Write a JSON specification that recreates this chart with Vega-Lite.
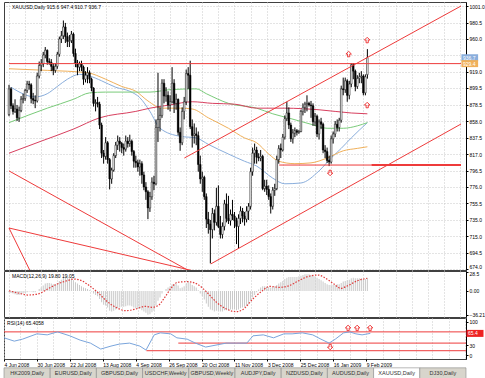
{
 "$schema": "https://vega.github.io/schema/vega-lite/v6.json",
 "padding": {"left": 1, "top": 1, "right": 0, "bottom": 0},
 "background": "#ffffff",
 "spacing": 1,
 "bounds": "flush",
 "config": {
  "font": "Liberation Sans",
  "view": {"stroke": "#404040", "strokeWidth": 1},
  "axis": {"labelFontSize": 5, "labelColor": "#000", "title": null, "domainColor": "#000", "tickColor": "#000", "labelOverlap": false, "tickCount": 200}
 },
 "resolve": {"scale": {"x": "independent", "y": "independent", "color": "independent", "shape": "independent"}},
 "datasets": {
  "candles": [
{"i":0,"o":866,"h":903,"l":864,"c":898},{"i":1,"o":898,"h":900,"l":873,"c":877},{"i":2,"o":877,"h":880,"l":866,"c":870},{"i":3,"o":870,"h":885,"l":868,"c":873},{"i":4,"o":873,"h":878,"l":858,"c":862},{"i":5,"o":862,"h":876,"l":857,"c":871},{"i":6,"o":871,"h":889,"l":869,"c":885},{"i":7,"o":885,"h":892,"l":880,"c":886},{"i":8,"o":886,"h":898,"l":883,"c":896},{"i":9,"o":896,"h":908,"l":893,"c":904},
{"i":10,"o":904,"h":908,"l":897,"c":903},{"i":11,"o":903,"h":905,"l":880,"c":886},{"i":12,"o":886,"h":893,"l":879,"c":884},{"i":13,"o":884,"h":890,"l":874,"c":883},{"i":14,"o":883,"h":918,"l":881,"c":914},{"i":15,"o":914,"h":932,"l":911,"c":927},{"i":16,"o":927,"h":935,"l":920,"c":929},{"i":17,"o":929,"h":944,"l":925,"c":940},{"i":18,"o":940,"h":950,"l":936,"c":946},{"i":19,"o":946,"h":947,"l":928,"c":932},
{"i":20,"o":932,"h":936,"l":928,"c":931},{"i":21,"o":931,"h":935,"l":920,"c":926},{"i":22,"o":926,"h":930,"l":915,"c":921},{"i":23,"o":921,"h":930,"l":918,"c":926},{"i":24,"o":926,"h":944,"l":923,"c":941},{"i":25,"o":941,"h":963,"l":938,"c":960},{"i":26,"o":960,"h":970,"l":955,"c":964},{"i":27,"o":964,"h":983,"l":960,"c":975},{"i":28,"o":975,"h":980,"l":955,"c":963},{"i":29,"o":963,"h":968,"l":950,"c":957},
{"i":30,"o":957,"h":965,"l":950,"c":958},{"i":31,"o":958,"h":970,"l":955,"c":966},{"i":32,"o":966,"h":968,"l":938,"c":942},{"i":33,"o":942,"h":948,"l":925,"c":930},{"i":34,"o":930,"h":934,"l":915,"c":925},{"i":35,"o":925,"h":932,"l":920,"c":929},{"i":36,"o":929,"h":933,"l":920,"c":925},{"i":37,"o":925,"h":927,"l":903,"c":910},{"i":38,"o":910,"h":920,"l":906,"c":915},{"i":39,"o":915,"h":925,"l":905,"c":918},
{"i":40,"o":918,"h":921,"l":905,"c":910},{"i":41,"o":910,"h":912,"l":895,"c":899},{"i":42,"o":899,"h":900,"l":876,"c":880},{"i":43,"o":880,"h":885,"l":870,"c":881},{"i":44,"o":881,"h":888,"l":875,"c":879},{"i":45,"o":879,"h":882,"l":848,"c":853},{"i":46,"o":853,"h":856,"l":812,"c":818},{"i":47,"o":818,"h":822,"l":805,"c":814},{"i":48,"o":814,"h":838,"l":810,"c":831},{"i":49,"o":831,"h":833,"l":805,"c":810},
{"i":50,"o":810,"h":812,"l":773,"c":786},{"i":51,"o":786,"h":800,"l":780,"c":797},{"i":52,"o":797,"h":818,"l":795,"c":815},{"i":53,"o":815,"h":832,"l":812,"c":828},{"i":54,"o":828,"h":840,"l":822,"c":833},{"i":55,"o":833,"h":838,"l":820,"c":830},{"i":56,"o":830,"h":832,"l":818,"c":825},{"i":57,"o":825,"h":830,"l":815,"c":823},{"i":58,"o":823,"h":840,"l":820,"c":833},{"i":59,"o":833,"h":838,"l":825,"c":830},
{"i":60,"o":830,"h":841,"l":826,"c":833},{"i":61,"o":833,"h":835,"l":815,"c":820},{"i":62,"o":820,"h":822,"l":800,"c":808},{"i":63,"o":808,"h":815,"l":800,"c":806},{"i":64,"o":806,"h":810,"l":795,"c":801},{"i":65,"o":801,"h":810,"l":790,"c":805},{"i":66,"o":805,"h":808,"l":780,"c":791},{"i":67,"o":791,"h":795,"l":772,"c":776},{"i":68,"o":776,"h":782,"l":760,"c":770},{"i":69,"o":770,"h":772,"l":736,"c":750},
{"i":70,"o":750,"h":770,"l":745,"c":764},{"i":71,"o":764,"h":788,"l":760,"c":782},{"i":72,"o":782,"h":790,"l":772,"c":780},{"i":73,"o":780,"h":860,"l":778,"c":850},{"i":74,"o":850,"h":918,"l":832,"c":860},{"i":75,"o":860,"h":875,"l":845,"c":865},{"i":76,"o":865,"h":910,"l":862,"c":905},{"i":77,"o":905,"h":910,"l":880,"c":889},{"i":78,"o":889,"h":900,"l":882,"c":890},{"i":79,"o":890,"h":895,"l":872,"c":878},
{"i":80,"o":878,"h":890,"l":870,"c":882},{"i":81,"o":882,"h":925,"l":880,"c":905},{"i":82,"o":905,"h":910,"l":868,"c":880},{"i":83,"o":880,"h":892,"l":872,"c":885},{"i":84,"o":885,"h":886,"l":840,"c":844},{"i":85,"o":844,"h":850,"l":821,"c":831},{"i":86,"o":831,"h":875,"l":828,"c":870},{"i":87,"o":870,"h":888,"l":860,"c":882},{"i":88,"o":882,"h":922,"l":878,"c":917},{"i":89,"o":917,"h":925,"l":898,"c":915},
{"i":90,"o":915,"h":933,"l":848,"c":851},{"i":91,"o":851,"h":860,"l":825,"c":840},{"i":92,"o":840,"h":855,"l":830,"c":842},{"i":93,"o":842,"h":850,"l":828,"c":840},{"i":94,"o":840,"h":845,"l":795,"c":804},{"i":95,"o":804,"h":815,"l":780,"c":786},{"i":96,"o":786,"h":795,"l":770,"c":788},{"i":97,"o":788,"h":790,"l":760,"c":764},{"i":98,"o":764,"h":768,"l":725,"c":736},{"i":99,"o":736,"h":745,"l":718,"c":730},
{"i":100,"o":730,"h":735,"l":681,"c":723},{"i":101,"o":723,"h":750,"l":712,"c":743},{"i":102,"o":743,"h":748,"l":722,"c":732},{"i":103,"o":732,"h":775,"l":728,"c":752},{"i":104,"o":752,"h":778,"l":725,"c":727},{"i":105,"o":727,"h":740,"l":712,"c":717},{"i":106,"o":717,"h":732,"l":712,"c":727},{"i":107,"o":727,"h":760,"l":722,"c":755},{"i":108,"o":755,"h":768,"l":732,"c":737},{"i":109,"o":737,"h":765,"l":730,"c":734},
{"i":110,"o":734,"h":748,"l":728,"c":742},{"i":111,"o":742,"h":760,"l":735,"c":740},{"i":112,"o":740,"h":745,"l":725,"c":734},{"i":113,"o":734,"h":738,"l":705,"c":727},{"i":114,"o":727,"h":742,"l":700,"c":737},{"i":115,"o":737,"h":752,"l":730,"c":746},{"i":116,"o":746,"h":750,"l":732,"c":740},{"i":117,"o":740,"h":745,"l":728,"c":736},{"i":118,"o":736,"h":752,"l":732,"c":746},{"i":119,"o":746,"h":756,"l":735,"c":752},
{"i":120,"o":752,"h":800,"l":748,"c":795},{"i":121,"o":795,"h":825,"l":790,"c":818},{"i":122,"o":818,"h":830,"l":805,"c":822},{"i":123,"o":822,"h":826,"l":805,"c":813},{"i":124,"o":813,"h":818,"l":808,"c":812},{"i":125,"o":812,"h":822,"l":808,"c":814},{"i":126,"o":814,"h":816,"l":772,"c":774},{"i":127,"o":774,"h":785,"l":770,"c":777},{"i":128,"o":777,"h":785,"l":766,"c":773},{"i":129,"o":773,"h":778,"l":760,"c":764},
{"i":130,"o":764,"h":768,"l":743,"c":752},{"i":131,"o":752,"h":776,"l":748,"c":772},{"i":132,"o":772,"h":780,"l":765,"c":774},{"i":133,"o":774,"h":815,"l":772,"c":810},{"i":134,"o":810,"h":828,"l":805,"c":824},{"i":135,"o":824,"h":830,"l":812,"c":822},{"i":136,"o":822,"h":842,"l":820,"c":838},{"i":137,"o":838,"h":865,"l":835,"c":861},{"i":138,"o":861,"h":882,"l":858,"c":868},{"i":139,"o":868,"h":875,"l":848,"c":853},
{"i":140,"o":853,"h":856,"l":832,"c":836},{"i":141,"o":836,"h":848,"l":830,"c":843},{"i":142,"o":843,"h":850,"l":838,"c":846},{"i":143,"o":846,"h":848,"l":840,"c":844},{"i":144,"o":844,"h":847,"l":842,"c":845},{"i":145,"o":845,"h":872,"l":844,"c":870},{"i":146,"o":870,"h":880,"l":865,"c":875},{"i":147,"o":875,"h":882,"l":868,"c":879},{"i":148,"o":879,"h":890,"l":870,"c":880},{"i":149,"o":880,"h":882,"l":876,"c":878},
{"i":150,"o":878,"h":883,"l":862,"c":877},{"i":151,"o":877,"h":880,"l":852,"c":857},{"i":152,"o":857,"h":868,"l":852,"c":864},{"i":153,"o":864,"h":866,"l":838,"c":842},{"i":154,"o":842,"h":860,"l":835,"c":857},{"i":155,"o":857,"h":862,"l":848,"c":854},{"i":156,"o":854,"h":856,"l":818,"c":822},{"i":157,"o":822,"h":828,"l":812,"c":820},{"i":158,"o":820,"h":825,"l":806,"c":809},{"i":159,"o":809,"h":815,"l":802,"c":807},
{"i":160,"o":807,"h":840,"l":805,"c":836},{"i":161,"o":836,"h":845,"l":830,"c":842},{"i":162,"o":842,"h":858,"l":838,"c":854},{"i":163,"o":854,"h":860,"l":845,"c":850},{"i":164,"o":850,"h":862,"l":845,"c":859},{"i":165,"o":859,"h":902,"l":856,"c":898},{"i":166,"o":898,"h":912,"l":890,"c":897},{"i":167,"o":897,"h":912,"l":893,"c":908},{"i":168,"o":908,"h":910,"l":882,"c":890},{"i":169,"o":890,"h":908,"l":885,"c":904},
{"i":170,"o":904,"h":930,"l":900,"c":928},{"i":171,"o":928,"h":930,"l":910,"c":920},{"i":172,"o":920,"h":922,"l":895,"c":901},{"i":173,"o":901,"h":915,"l":898,"c":911},{"i":174,"o":911,"h":918,"l":905,"c":913},{"i":175,"o":913,"h":920,"l":905,"c":914},{"i":176,"o":914,"h":916,"l":890,"c":893},{"i":177,"o":893,"h":916,"l":890,"c":913},{"i":178,"o":915.6,"h":947.4,"l":910.7,"c":936.7}
  ],
  "ma": [
{"ma":"blue","i":1,"v":900},{"ma":"blue","i":13,"v":888},{"ma":"blue","i":19,"v":892},{"ma":"blue","i":24,"v":901},{"ma":"blue","i":29,"v":910},{"ma":"blue","i":35,"v":916},{"ma":"blue","i":40,"v":914},{"ma":"blue","i":46,"v":908},{"ma":"blue","i":53,"v":900},{"ma":"blue","i":60,"v":895},{"ma":"blue","i":65,"v":887},{"ma":"blue","i":70,"v":870},{"ma":"blue","i":75,"v":849},{"ma":"blue","i":85,"v":839},{"ma":"blue","i":93,"v":837},{"ma":"blue","i":99,"v":829},{"ma":"blue","i":109,"v":817},{"ma":"blue","i":117,"v":808},{"ma":"blue","i":123,"v":802},{"ma":"blue","i":131,"v":787},{"ma":"blue","i":137,"v":780},{"ma":"blue","i":145,"v":781},{"ma":"blue","i":154,"v":796},{"ma":"blue","i":160,"v":812},{"ma":"blue","i":165,"v":824},{"ma":"blue","i":170,"v":837},{"ma":"blue","i":178,"v":856},
{"ma":"orange","i":0,"v":923},{"ma":"orange","i":19,"v":921},{"ma":"orange","i":39,"v":918},{"ma":"orange","i":48,"v":910},{"ma":"orange","i":56,"v":901},{"ma":"orange","i":63,"v":895},{"ma":"orange","i":69,"v":883},{"ma":"orange","i":76,"v":874},{"ma":"orange","i":85,"v":874},{"ma":"orange","i":91,"v":873},{"ma":"orange","i":99,"v":862},{"ma":"orange","i":109,"v":849},{"ma":"orange","i":117,"v":837},{"ma":"orange","i":123,"v":831},{"ma":"orange","i":129,"v":817},{"ma":"orange","i":134,"v":808},{"ma":"orange","i":142,"v":805},{"ma":"orange","i":150,"v":806},{"ma":"orange","i":158,"v":812},{"ma":"orange","i":166,"v":821},{"ma":"orange","i":173,"v":824},{"ma":"orange","i":178,"v":826},
{"ma":"green","i":0,"v":856},{"ma":"green","i":19,"v":874},{"ma":"green","i":32,"v":885},{"ma":"green","i":40,"v":893},{"ma":"green","i":48,"v":894},{"ma":"green","i":63,"v":894},{"ma":"green","i":70,"v":894},{"ma":"green","i":80,"v":897},{"ma":"green","i":93,"v":898},{"ma":"green","i":98,"v":892},{"ma":"green","i":109,"v":880},{"ma":"green","i":123,"v":874},{"ma":"green","i":131,"v":867},{"ma":"green","i":140,"v":861},{"ma":"green","i":150,"v":854},{"ma":"green","i":158,"v":849},{"ma":"green","i":166,"v":849},{"ma":"green","i":173,"v":852},{"ma":"green","i":178,"v":856},
{"ma":"crimson","i":0,"v":818},{"ma":"crimson","i":16,"v":833},{"ma":"crimson","i":32,"v":848},{"ma":"crimson","i":45,"v":862},{"ma":"crimson","i":63,"v":870},{"ma":"crimson","i":70,"v":874},{"ma":"crimson","i":80,"v":878},{"ma":"crimson","i":91,"v":882},{"ma":"crimson","i":101,"v":880},{"ma":"crimson","i":112,"v":879},{"ma":"crimson","i":123,"v":874},{"ma":"crimson","i":137,"v":874},{"ma":"crimson","i":154,"v":872},{"ma":"crimson","i":170,"v":868},{"ma":"crimson","i":178,"v":867}
  ],
  "trend": [
{"i1":87.1,"p1":812.0,"i2":224.5,"p2":1001.0},
{"i1":100.2,"p1":680.3,"i2":224.5,"p2":854.3},
{"i1":0,"p1":929.4,"i2":224.5,"p2":929.4},
{"i1":134.2,"p1":803.3,"i2":180,"p2":803.3},
{"i1":0,"p1":796,"i2":95,"p2":664},
{"i1":0,"p1":725,"i2":98,"p2":668},
{"i1":0,"p1":725,"i2":12,"p2":664}
  ],
  "trendThick": [
{"i1":180,"p1":803.3,"i2":224.5,"p2":803.3}
  ],
  "arrows": [
{"i":168.7,"p":941.3,"dir":"up"},{"i":177.9,"p":958.7,"dir":"up"},{"i":177.9,"p":877.9,"dir":"up"},{"i":159.5,"p":793.4,"dir":"down"}
  ],
  "boxes": [
{"p":936.7,"kind":"bid","lab":"936.7"},{"p":929.4,"kind":"line","lab":"929.4"}
  ],
  "macd": [
{"i":0,"m":-2},{"i":1,"m":-3},{"i":2,"m":-4},{"i":3,"m":-5},{"i":4,"m":-6},{"i":5,"m":-6},{"i":6,"m":-5},{"i":7,"m":-4},{"i":8,"m":-3},{"i":9,"m":-2},
{"i":10,"m":-1},{"i":11,"m":-1},{"i":12,"m":-2},{"i":13,"m":-2},{"i":14,"m":0},{"i":15,"m":3},{"i":16,"m":5},{"i":17,"m":8},{"i":18,"m":11},{"i":19,"m":12},
{"i":20,"m":12},{"i":21,"m":11},{"i":22,"m":10},{"i":23,"m":10},{"i":24,"m":12},{"i":25,"m":15},{"i":26,"m":17},{"i":27,"m":20},{"i":28,"m":21},{"i":29,"m":20},
{"i":30,"m":19},{"i":31,"m":19},{"i":32,"m":16},{"i":33,"m":13},{"i":34,"m":11},{"i":35,"m":9},{"i":36,"m":7},{"i":37,"m":5},{"i":38,"m":4},{"i":39,"m":3},
{"i":40,"m":1},{"i":41,"m":-1},{"i":42,"m":-4},{"i":43,"m":-6},{"i":44,"m":-8},{"i":45,"m":-12},{"i":46,"m":-17},{"i":47,"m":-21},{"i":48,"m":-22},{"i":49,"m":-25},
{"i":50,"m":-30},{"i":51,"m":-31},{"i":52,"m":-30},{"i":53,"m":-28},{"i":54,"m":-26},{"i":55,"m":-25},{"i":56,"m":-24},{"i":57,"m":-24},{"i":58,"m":-23},{"i":59,"m":-22},
{"i":60,"m":-22},{"i":61,"m":-23},{"i":62,"m":-25},{"i":63,"m":-26},{"i":64,"m":-27},{"i":65,"m":-27},{"i":66,"m":-29},{"i":67,"m":-31},{"i":68,"m":-33},{"i":69,"m":-36},
{"i":70,"m":-35},{"i":71,"m":-32},{"i":72,"m":-30},{"i":73,"m":-22},{"i":74,"m":-15},{"i":75,"m":-10},{"i":76,"m":-4},{"i":77,"m":0},{"i":78,"m":3},{"i":79,"m":5},
{"i":80,"m":7},{"i":81,"m":10},{"i":82,"m":10},{"i":83,"m":11},{"i":84,"m":8},{"i":85,"m":4},{"i":86,"m":5},{"i":87,"m":7},{"i":88,"m":11},{"i":89,"m":14},
{"i":90,"m":12},{"i":91,"m":9},{"i":92,"m":7},{"i":93,"m":5},{"i":94,"m":1},{"i":95,"m":-4},{"i":96,"m":-8},{"i":97,"m":-13},{"i":98,"m":-19},{"i":99,"m":-24},
{"i":100,"m":-28},{"i":101,"m":-29},{"i":102,"m":-31},{"i":103,"m":-30},{"i":104,"m":-30},{"i":105,"m":-31},{"i":106,"m":-31},{"i":107,"m":-29},{"i":108,"m":-29},{"i":109,"m":-29},
{"i":110,"m":-28},{"i":111,"m":-28},{"i":112,"m":-28},{"i":113,"m":-29},{"i":114,"m":-28},{"i":115,"m":-26},{"i":116,"m":-25},{"i":117,"m":-24},{"i":118,"m":-22},{"i":119,"m":-20},
{"i":120,"m":-14},{"i":121,"m":-10},{"i":122,"m":-6},{"i":123,"m":-2},{"i":124,"m":2},{"i":125,"m":5},{"i":126,"m":7},{"i":127,"m":7},{"i":128,"m":6},{"i":129,"m":6},
{"i":130,"m":5},{"i":131,"m":6},{"i":132,"m":7},{"i":133,"m":9},{"i":134,"m":11},{"i":135,"m":13},{"i":136,"m":15},{"i":137,"m":18},{"i":138,"m":20},{"i":139,"m":21},
{"i":140,"m":21},{"i":141,"m":21},{"i":142,"m":21},{"i":143,"m":21},{"i":144,"m":22},{"i":145,"m":23},{"i":146,"m":24},{"i":147,"m":25},{"i":148,"m":25},{"i":149,"m":25},
{"i":150,"m":24},{"i":151,"m":23},{"i":152,"m":22},{"i":153,"m":20},{"i":154,"m":18},{"i":155,"m":16},{"i":156,"m":14},{"i":157,"m":12},{"i":158,"m":10},{"i":159,"m":9},
{"i":160,"m":9},{"i":161,"m":9},{"i":162,"m":9},{"i":163,"m":10},{"i":164,"m":10},{"i":165,"m":12},{"i":166,"m":14},{"i":167,"m":15},{"i":168,"m":16},{"i":169,"m":17},
{"i":170,"m":19},{"i":171,"m":20},{"i":172,"m":19},{"i":173,"m":19},{"i":174,"m":19},{"i":175,"m":19},{"i":176,"m":18},{"i":177,"m":18},{"i":178,"m":19.8}
  ],
  "signal": [
{"i":0,"s":0.3},{"i":4.6,"s":-3.2},{"i":9.4,"s":-6.2},{"i":14.3,"s":-4.7},{"i":19.2,"s":2.9},{"i":24,"s":10.4},{"i":28.9,"s":15.4},{"i":32.3,"s":17.9},{"i":35.2,"s":16.4},{"i":40,"s":7.8},{"i":44.9,"s":-4.7},{"i":48.3,"s":-14.8},{"i":53.1,"s":-24.7},{"i":58,"s":-29.8},{"i":62.9,"s":-27.3},{"i":67.7,"s":-23.2},{"i":71.1,"s":-24.7},{"i":74,"s":-22.3},{"i":77.4,"s":-9.6},{"i":80.8,"s":5.4},{"i":83.7,"s":13},{"i":88.6,"s":13.9},{"i":93.4,"s":10.4},{"i":98.3,"s":-2.1},{"i":103.1,"s":-17.2},{"i":108,"s":-27.3},{"i":112.8,"s":-31.3},{"i":116.2,"s":-28},{"i":121.1,"s":-12.2},{"i":125.9,"s":0.3},{"i":129.4,"s":6.9},{"i":134.2,"s":5.4},{"i":139.1,"s":7.8},{"i":143.9,"s":15.4},{"i":148.8,"s":22},{"i":153.6,"s":23.9},{"i":156.5,"s":20.5},{"i":161.4,"s":10.4},{"i":164.8,"s":3.9},{"i":168.2,"s":7.8},{"i":173.1,"s":15.4},{"i":177.9,"s":19.05}
  ],
  "rsi": [
{"i":0,"r":52},{"i":5,"r":42},{"i":9,"r":48},{"i":16,"r":64},{"i":21,"r":61},{"i":26,"r":70},{"i":32,"r":58},{"i":37,"r":45},{"i":42,"r":36},{"i":47,"r":18},{"i":52,"r":27},{"i":56,"r":33},{"i":61,"r":36},{"i":66,"r":27},{"i":69,"r":15},{"i":73,"r":61},{"i":76,"r":67},{"i":81,"r":64},{"i":84,"r":52},{"i":89,"r":48},{"i":93,"r":36},{"i":98,"r":24},{"i":103,"r":30},{"i":108,"r":36},{"i":113,"r":36},{"i":118,"r":36},{"i":121,"r":58},{"i":126,"r":61},{"i":131,"r":52},{"i":136,"r":64},{"i":140,"r":64},{"i":145,"r":67},{"i":150,"r":61},{"i":154,"r":48},{"i":158,"r":36},{"i":161,"r":48},{"i":165,"r":67},{"i":168,"r":70},{"i":171,"r":64},{"i":174,"r":61},{"i":178,"r":65.4}
  ],
  "rsilev": [
{"i1":0,"i2":224.5,"r":70},{"i1":84.7,"i2":224.5,"r":36},{"i1":69.2,"i2":224.5,"r":13}
  ],
  "rsiarrows": [
{"i":167.2,"r":82,"dir":"up"},{"i":171.6,"r":82,"dir":"up"},{"i":177.9,"r":82,"dir":"up"},{"i":158.5,"r":24,"dir":"down"}
  ],
  "tabs": [
{"tab":"HK2009,Daily","active":false},{"tab":"EURUSD,Daily","active":false},{"tab":"GBPUSD,Daily","active":false},{"tab":"USDCHF,Weekly","active":false},{"tab":"GBPUSD,Weekly","active":false},{"tab":"AUDJPY,Daily","active":false},{"tab":"NZDUSD,Daily","active":false},{"tab":"AUDUSD,Daily","active":false},{"tab":"XAUUSD,Daily","active":true},{"tab":"DJ30,Daily","active":false}
  ]
 },
 "vconcat": [
  {
   "width": 462, "height": 268,
   "layer": [
    {"data": {"name": "ma"}, "mark": {"type": "line", "strokeWidth": 1, "interpolate": "monotone"},
     "encoding": {
      "x": {"field": "i", "type": "quantitative", "scale": {"domain": [0, 224.5], "nice": false, "zero": false},
            "axis": {"grid": true, "labels": false, "ticks": false, "domain": false, "values": [0,8,16,24,32,40,48,56,64,72,80,88,96,104,112,120,128,136,144,152,160,168,176,184,192,200,208,216,224], "gridColor": "#c8c8c8", "gridDash": [1, 2]}},
      "y": {"field": "v", "type": "quantitative", "scale": {"domain": [672.8, 1006], "nice": false, "zero": false},
            "axis": {"orient": "right", "values": [1001.0, 980.5, 960.0, 939.5, 919.0, 899.5, 878.5, 858.0, 837.5, 817.0, 796.5, 776.0, 755.5, 735.0, 715.0, 694.5, 674.0],
                     "labelExpr": "datum.value == 939.5 ? '' : format(datum.value, '.1f')", "grid": true, "gridColor": "#c8c8c8", "gridDash": [1, 2], "tickSize": 2, "labelPadding": 1,
                     "labelBaseline": {"condition": {"test": "datum.value < 680", "value": "bottom"}, "value": "middle"}}},
      "color": {"field": "ma", "type": "nominal", "scale": {"domain": ["blue", "orange", "green", "crimson"], "range": ["#8aaedc", "#f0b05a", "#7acb7a", "#d8405f"]}, "legend": null}
     }},
    {"data": {"name": "candles"}, "mark": {"type": "rule", "color": "#000", "strokeWidth": 1},
     "encoding": {"x": {"field": "i", "type": "quantitative"}, "y": {"field": "l", "type": "quantitative"}, "y2": {"field": "h"}}},
    {"data": {"name": "candles"}, "mark": {"type": "bar", "width": 1.6, "stroke": "#000", "strokeWidth": 0.5},
     "encoding": {"x": {"field": "i", "type": "quantitative"}, "y": {"field": "o", "type": "quantitative"}, "y2": {"field": "c"},
      "color": {"condition": {"test": "datum.c < datum.o", "value": "#000000"}, "value": "#ffffff"}}},
    {"data": {"name": "trend"}, "mark": {"type": "rule", "color": "#ee3b3b", "strokeWidth": 1, "clip": true},
     "encoding": {"x": {"field": "i1", "type": "quantitative"}, "x2": {"field": "i2"}, "y": {"field": "p1", "type": "quantitative"}, "y2": {"field": "p2"}}},
    {"data": {"name": "trendThick"}, "mark": {"type": "rule", "color": "#ee3b3b", "strokeWidth": 2, "clip": true},
     "encoding": {"x": {"field": "i1", "type": "quantitative"}, "x2": {"field": "i2"}, "y": {"field": "p1", "type": "quantitative"}, "y2": {"field": "p2"}}},
    {"data": {"name": "arrows"}, "mark": {"type": "point", "filled": false, "stroke": "#ee3b3b", "strokeWidth": 1, "size": 30, "opacity": 1},
     "encoding": {"x": {"field": "i", "type": "quantitative"}, "y": {"field": "p", "type": "quantitative"},
      "shape": {"field": "dir", "type": "nominal", "scale": {"domain": ["up", "down"], "range": ["M0,-1L1,0L0.4,0L0.4,1L-0.4,1L-0.4,0L-1,0Z", "M0,1L1,0L0.4,0L0.4,-1L-0.4,-1L-0.4,0L-1,0Z"]}, "legend": null}}},
    {"data": {"values": [{"t": "XAUUSD,Daily  915.6 947.4 910.7 936.7"}]}, "mark": {"type": "text", "align": "left", "baseline": "middle", "fontSize": 5, "color": "#000"},
     "encoding": {"x": {"datum": 1.5}, "y": {"datum": 999.7}, "text": {"field": "t"}}},
    {"data": {"name": "boxes"}, "mark": {"type": "rule", "strokeWidth": 7},
     "encoding": {"x": {"datum": 224.7}, "x2": {"datum": 233}, "y": {"field": "p", "type": "quantitative"},
      "color": {"field": "kind", "type": "nominal", "scale": {"domain": ["bid", "line"], "range": ["#000000", "#ee2222"]}, "legend": null}}},
    {"data": {"name": "boxes"}, "mark": {"type": "text", "align": "left", "baseline": "middle", "fontSize": 5, "color": "#ffffff"},
     "encoding": {"x": {"datum": 225.5}, "y": {"field": "p", "type": "quantitative"}, "text": {"field": "lab"}}}
   ]
  },
  {
   "width": 462, "height": 46,
   "layer": [
    {"data": {"name": "macd"}, "mark": {"type": "bar", "width": 1, "color": "#c8c8c8"},
     "encoding": {
      "x": {"field": "i", "type": "quantitative", "scale": {"domain": [0, 224.5], "nice": false, "zero": false},
            "axis": {"grid": true, "labels": false, "ticks": false, "domain": false, "values": [0,8,16,24,32,40,48,56,64,72,80,88,96,104,112,120,128,136,144,152,160,168,176,184,192,200,208,216,224], "gridColor": "#c8c8c8", "gridDash": [1, 2]}},
      "y": {"field": "m", "type": "quantitative", "scale": {"domain": [-39.3, 30], "nice": false, "zero": false},
            "axis": {"orient": "right", "values": [28.5, 0, -36.21], "labelExpr": "datum.value == 0 ? '0.00' : format(datum.value, '.2~f')", "grid": false, "tickSize": 2, "labelPadding": 1,
                     "labelBaseline": {"condition": {"test": "datum.value > 20", "value": "top"}, "value": "middle"}}},
      "y2": {"datum": 0}
     }},
    {"data": {"name": "signal"}, "mark": {"type": "line", "color": "#e03a3a", "strokeDash": [1.5, 1.5], "strokeWidth": 1.2, "interpolate": "monotone"},
     "encoding": {"x": {"field": "i", "type": "quantitative"}, "y": {"field": "s", "type": "quantitative"}}},
    {"data": {"values": [{"t": "MACD(12,26,9) 19.80 19.05"}]}, "mark": {"type": "text", "align": "left", "baseline": "middle", "fontSize": 5, "color": "#000"},
     "encoding": {"x": {"datum": 1.5}, "y": {"datum": 22.9}, "text": {"field": "t"}}}
   ]
  },
  {
   "width": 462, "height": 41,
   "layer": [
    {"data": {"name": "rsilev"}, "mark": {"type": "rule", "color": "#ee3b3b", "strokeWidth": 1},
     "encoding": {
      "x": {"field": "i1", "type": "quantitative", "scale": {"domain": [0, 224.5], "nice": false, "zero": false},
            "axis": {"grid": true, "gridColor": "#c8c8c8", "gridDash": [1, 2], "domain": false, "tickSize": 2, "labelPadding": 1, "labelAlign": "left", "labelBaseline": "top",
                     "values": [0,8,16,24,32,40,48,56,64,72,80,88,96,104,112,120,128,136,144,152,160,168,176,184,192,200,208,216,224],
                     "tickOpacity": {"condition": {"test": "datum.value % 16 == 0 && datum.value <= 176", "value": 1}, "value": 0},
                     "labelExpr": "datum.value % 16 == 0 && datum.value <= 176 ? ['4 Jun 2008','30 Jun 2008','22 Jul 2008','13 Aug 2008','4 Sep 2008','26 Sep 2008','20 Oct 2008','11 Nov 2008','3 Dec 2008','25 Dec 2008','16 Jan 2009','9 Feb 2009'][datum.value / 16] : ''"}},
      "x2": {"field": "i2"},
      "y": {"field": "r", "type": "quantitative", "scale": {"domain": [-12.1, 112], "nice": false, "zero": false},
            "axis": {"orient": "right", "values": [100, 30, 0], "format": "d", "grid": false, "tickSize": 2, "labelPadding": 1}}
     }},
    {"data": {"name": "rsi"}, "mark": {"type": "line", "color": "#7aa5dc", "strokeWidth": 1},
     "encoding": {"x": {"field": "i", "type": "quantitative"}, "y": {"field": "r", "type": "quantitative"}}},
    {"data": {"name": "rsiarrows"}, "mark": {"type": "point", "filled": false, "stroke": "#ee3b3b", "strokeWidth": 1, "size": 30, "opacity": 1},
     "encoding": {"x": {"field": "i", "type": "quantitative"}, "y": {"field": "r", "type": "quantitative"},
      "shape": {"field": "dir", "type": "nominal", "scale": {"domain": ["up", "down"], "range": ["M0,-1L1,0L0.4,0L0.4,1L-0.4,1L-0.4,0L-1,0Z", "M0,1L1,0L0.4,0L0.4,-1L-0.4,-1L-0.4,0L-1,0Z"]}, "legend": null}}},
    {"data": {"values": [{"t": "RSI(14) 65.4058"}]}, "mark": {"type": "text", "align": "left", "baseline": "middle", "fontSize": 5, "color": "#000"},
     "encoding": {"x": {"datum": 1.5}, "y": {"datum": 97}, "text": {"field": "t"}}},
    {"data": {"values": [{"r": 65.4, "lab": "65.4"}]}, "mark": {"type": "rule", "strokeWidth": 7, "color": "#ee2222"},
     "encoding": {"x": {"datum": 224.7}, "x2": {"datum": 233}, "y": {"field": "r", "type": "quantitative"}}},
    {"data": {"values": [{"r": 65.4, "lab": "65.4"}]}, "mark": {"type": "text", "align": "left", "baseline": "middle", "fontSize": 5, "color": "#ffffff"},
     "encoding": {"x": {"datum": 225.5}, "y": {"field": "r", "type": "quantitative"}, "text": {"field": "lab"}}}
   ]
  },
  {
   "width": 462, "height": 19,
   "view": {"stroke": null},
   "data": {"name": "tabs"},
   "layer": [
    {"mark": {"type": "bar", "stroke": "#8a8a8a", "strokeWidth": 0.6},
     "encoding": {"x": {"field": "tab", "type": "nominal", "sort": null, "axis": null, "scale": {"paddingInner": 0, "paddingOuter": 0}},
      "y": {"datum": 0, "type": "quantitative", "scale": {"domain": [0, 1.7], "nice": false, "zero": false}, "axis": null},
      "y2": {"datum": 1},
      "color": {"condition": {"test": "datum.active", "value": "#ffffff"}, "value": "#d8d5cc"}}},
    {"mark": {"type": "text", "fontSize": 5.5, "color": "#333", "baseline": "middle"},
     "encoding": {"x": {"field": "tab", "type": "nominal", "sort": null}, "y": {"datum": 0.5, "type": "quantitative"}, "text": {"field": "tab"}}}
   ]
  }
 ]
}
